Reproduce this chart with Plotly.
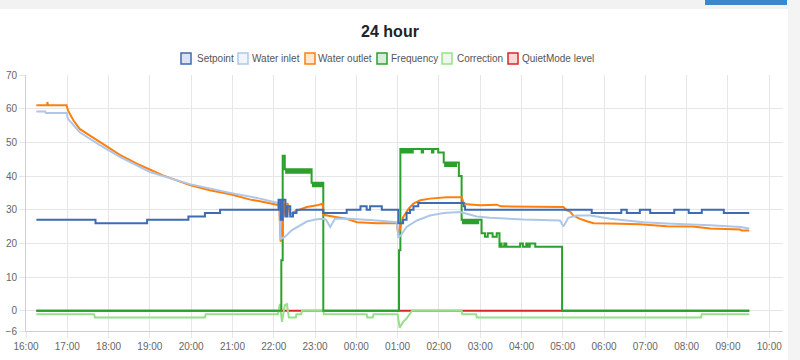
import plotly.graph_objects as go

BASE1 = "2024-03-10"
BASE2 = "2024-03-11"


def ts(hm):
    return (BASE1 if int(hm[:2]) >= 12 else BASE2) + " " + hm


# ---------------- data ----------------
series_names = ["Setpoint", "Water inlet", "Water outlet", "Frequency", "Correction", "QuietMode level"]
series_colors = ["#3d6cb4", "#aec7e8", "#ff7f0e", "#2ca02c", "#98df8a", "#d62728"]

setpoint_t = ['16:15', '17:41', '18:56', '19:56', '20:20', '20:42', '22:07', '22:10', '22:13', '22:17',
              '22:20', '22:24', '22:28', '22:33', '23:12', '23:46', '00:06', '00:15', '00:20', '00:37',
              '01:01', '01:08', '01:13', '01:18', '01:23', '01:30', '02:36', '02:38', '05:42', '06:25',
              '06:33', '06:52', '07:07', '07:42', '08:03', '08:22', '08:54', '09:31']
setpoint_v = [27, 26, 27, 28, 29, 30, 33, 27, 33, 28,
              31, 28, 29, 30, 29, 30, 31, 30, 31, 30,
              26, 27, 29, 30, 31, 32, 31, 30, 29, 30,
              29, 30, 29, 30, 29, 30, 29, 29]

inlet_t = ['16:15', '16:28', '16:29', '16:59', '17:01', '17:09', '17:18', '17:48', '18:17', '19:00',
           '19:58', '20:57', '21:40', '22:06', '22:08', '22:10', '22:16', '22:26', '22:41', '22:48',
           '23:00', '23:12', '23:16', '23:22', '23:29', '23:51', '00:30', '00:59', '01:01', '01:04',
           '01:13', '01:28', '01:47', '02:07', '02:31', '02:36', '02:55', '03:14', '04:03', '04:56',
           '05:01', '05:08', '05:20', '05:40', '06:09', '06:57', '07:31', '08:34', '09:18', '09:31']
inlet_v = [59.2, 59.2, 58.7, 58.7, 57, 55, 53, 49.1, 45.6, 41.2,
           37.6, 35, 33.3, 32, 31.5, 21.3, 21.9, 23.9, 25.7, 26.5,
           27.1, 27.3, 27, 24.9, 27.3, 27.3, 26.8, 26.3, 21.9, 22.2,
           24.9, 26.8, 28.3, 29, 29.3, 29, 28, 27.6, 27.1, 26.8,
           25, 27.6, 28.3, 28.3, 27.3, 26.3, 25.9, 25.4, 24.9, 24.4]

outlet_t = ['16:15', '16:31', '16:31', '16:32', '16:59', '17:01', '17:09', '17:18', '17:33', '17:48',
            '18:17', '18:46', '19:19', '19:58', '20:27', '20:57', '21:26', '21:40', '22:06', '22:08',
            '22:10', '22:12', '22:14', '22:17', '22:20', '22:24', '22:28', '22:48', '23:03', '23:11',
            '23:12', '23:32', '23:46', '00:01', '00:30', '00:59', '01:01', '01:04', '01:08', '01:16',
            '01:23', '01:33', '01:47', '02:11', '02:33', '02:36', '02:41', '03:00', '03:24', '03:30',
            '04:59', '05:01', '05:06', '05:11', '05:15', '05:25', '05:35', '05:45', '06:09', '06:52',
            '07:31', '08:09', '08:34', '09:18', '09:20', '09:31']
outlet_v = [61, 61, 62, 61, 61, 59.5, 56.5, 54, 52, 50,
            46.2, 43.2, 40.2, 37.3, 35.8, 34.6, 33, 32.5, 31.4, 31,
            20.5, 22, 33, 28, 32, 28.5, 29.3, 30.8, 31.3, 31.8,
            28.5, 27.8, 27.3, 26.3, 26, 26, 22.4, 24.9, 27.8, 30.3,
            31.8, 32.8, 33.3, 33.7, 33.7, 32, 31.6, 31.3, 31.5, 31,
            31, 30.8, 29.8, 29.4, 28.3, 27.3, 26.6, 26, 25.9, 25.7,
            25.1, 25, 24.4, 24.1, 23.8, 23.8]

freq_t = ['16:15', '22:11', '22:13', '22:16',
          '22:18', '22:19', '22:21', '22:22', '22:24', '22:25', '22:27', '22:28', '22:30', '22:31',
          '22:33', '22:34', '22:36', '22:37', '22:39', '22:40', '22:42', '22:43', '22:45', '22:46',
          '22:48', '22:49', '22:51', '22:52',
          '22:55', '22:57', '22:58', '23:00', '23:01', '23:03', '23:04', '23:06', '23:07', '23:09', '23:10',
          '23:12',
          '01:02', '01:04', '01:06', '01:07', '01:09', '01:10', '01:12', '01:13', '01:15', '01:16',
          '01:18', '01:19', '01:21', '01:22', '01:35', '01:37', '01:50', '01:52', '01:59',
          '02:07', '02:09', '02:10', '02:12', '02:13', '02:15', '02:16', '02:18', '02:19', '02:21',
          '02:22', '02:24', '02:25',
          '02:29', '02:33', '02:35', '02:36', '02:38', '02:39', '02:41', '02:42', '02:44', '02:45',
          '02:47', '02:48', '02:50', '02:51', '02:53', '02:54', '02:56', '02:57',
          '03:02', '03:07', '03:11', '03:18', '03:24', '03:28', '03:30', '03:31', '03:35', '03:38',
          '03:58', '04:02', '04:07', '04:09', '04:12', '04:20', '04:59', '09:31']
freq_v = [0, 15, 46, 42,
          41, 42, 41, 42, 41, 42, 41, 42, 41, 42,
          41, 42, 41, 42, 41, 42, 41, 42, 41, 42,
          41, 42, 41, 42,
          38, 37, 38, 37, 38, 37, 38, 37, 38, 37, 38,
          0,
          18, 48, 47, 48, 47, 48, 47, 48, 47, 48,
          47, 48, 47, 48, 47, 48, 47, 48, 47,
          44, 43, 44, 43, 44, 43, 44, 43, 44, 43,
          44, 43, 44,
          40, 27, 26, 27, 26, 27, 26, 27, 26, 27,
          26, 27, 26, 27, 26, 27, 26, 27,
          23, 22, 23, 22, 23, 19, 20, 19, 20, 19,
          20, 19, 20, 19, 20, 19, 0, 0]

corr_t = ['16:15', '17:39', '17:40', '20:20', '20:21', '22:06', '22:09', '22:12', '22:16', '22:19',
          '22:22', '22:32', '22:33', '22:40', '22:41', '23:12', '23:13', '00:15', '00:16', '00:24',
          '00:25', '01:00', '01:03', '01:08', '01:13', '01:18', '01:21', '02:33', '02:34', '02:54',
          '02:55', '08:21', '08:22', '09:31']
corr_v = [-1, -1, -2, -2, -1, -1, 2, -3.3, 1.7, 2,
          -2, -2, -1, -1, 0, 0, -1, -1, -2, -2,
          -1, -1, -5, -3.3, -2.3, -0.8, 0, 0, -1, -1,
          -2, -2, -1, -1]

quiet_t = ['16:15', '09:31']
quiet_v = [0, 0]

y_ticks = [-6, 0, 10, 20, 30, 40, 50, 60, 70]
title_text = "24 hour"

# ---------------- figure ----------------
W, H = 800, 360
L, R, T, B = 26, 17, 75, 29
PW, PH = W - L - R, H - T - B


def pxx(px):
    return (px - L) / PW


def pxy(py):
    return (H - B - py) / PH


fig = go.Figure()

traces = [  # drawn bottom -> top (first dataset on top, like the original)
    (quiet_t, quiet_v, 5, "hv"),
    (corr_t, corr_v, 4, "linear"),
    (freq_t, freq_v, 3, "hv"),
    (outlet_t, outlet_v, 2, "linear"),
    (inlet_t, inlet_v, 1, "linear"),
    (setpoint_t, setpoint_v, 0, "hv"),
]
for tt, vv, idx, shape in traces:
    fig.add_trace(go.Scatter(
        x=[ts(t) for t in tt], y=vv, mode="lines", name=series_names[idx],
        line=dict(color=series_colors[idx], width=2, shape=shape),
        showlegend=False, hoverinfo="skip",
    ))

grid_c = "#e6e6e6"
fig.update_xaxes(
    type="date", range=[ts("16:00"), ts("10:20")], tick0=ts("16:00"), dtick=3600000,
    tickformat="%H:%M", showgrid=True, gridcolor=grid_c, gridwidth=1,
    ticks="outside", ticklen=6, tickcolor=grid_c, showline=True, linecolor="#cfcfcf",
    zeroline=False, tickfont=dict(size=10, color="#666"), automargin=False,
)
fig.update_yaxes(
    range=[-6, 70], tickvals=y_ticks, showgrid=True, gridcolor=grid_c, gridwidth=1,
    ticks="outside", ticklen=6, tickcolor=grid_c, showline=True, linecolor="#cfcfcf",
    zeroline=False, tickfont=dict(size=10, color="#666"), automargin=False,
)

# page background details (gray frame + button)
shapes = [
    dict(type="rect", xref="paper", yref="paper", x0=pxx(0), x1=pxx(800), y0=pxy(9), y1=pxy(0),
         fillcolor="#f2f2f2", line=dict(width=0), layer="above"),
    dict(type="rect", xref="paper", yref="paper", x0=pxx(788), x1=pxx(800), y0=pxy(360), y1=pxy(0),
         fillcolor="#f4f4f4", line=dict(width=0), layer="above"),
    dict(type="rect", xref="paper", yref="paper", x0=pxx(705), x1=pxx(787), y0=pxy(5), y1=pxy(0),
         fillcolor="#3a87cc", line=dict(width=0), layer="above"),
]

# legend (boxes + labels) like the original chart
box_x = [181, 238, 305, 377, 442, 508]
text_x = [195, 250, 316, 389, 455, 520]
annotations = []


def rgba(hexc, a):
    h = hexc.lstrip("#")
    return "rgba(%d,%d,%d,%.2f)" % (int(h[0:2], 16), int(h[2:4], 16), int(h[4:6], 16), a)


for i, name in enumerate(series_names):
    shapes.append(dict(type="rect", xref="paper", yref="paper",
                       x0=pxx(box_x[i]), x1=pxx(box_x[i] + 10), y0=pxy(64), y1=pxy(53),
                       fillcolor=rgba(series_colors[i], 0.18),
                       line=dict(color=series_colors[i], width=1.5)))
    annotations.append(dict(text=name, xref="paper", yref="paper", x=pxx(text_x[i]), y=pxy(58.5),
                            xanchor="left", yanchor="middle", showarrow=False,
                            font=dict(size=10, color="#555")))

fig.update_layout(
    width=W, height=H, margin=dict(l=L, r=R, t=T, b=B, autoexpand=False),
    paper_bgcolor="white", plot_bgcolor="white", showlegend=False,
    font=dict(family="Liberation Sans, Arial, sans-serif", size=10, color="#666"),
    title=dict(text="<b>" + title_text + "</b>", x=390 / W, xref="container", xanchor="center",
               y=1 - 31 / H, yref="container", yanchor="middle",
               font=dict(size=16, color="#222")),
    shapes=shapes, annotations=annotations, hovermode=False,
)

fig.write_html("out.html", config={"displayModeBar": False},
               post_script="document.body.style.margin='0';document.body.style.padding='0';"
                           "document.body.style.overflow='hidden';")
